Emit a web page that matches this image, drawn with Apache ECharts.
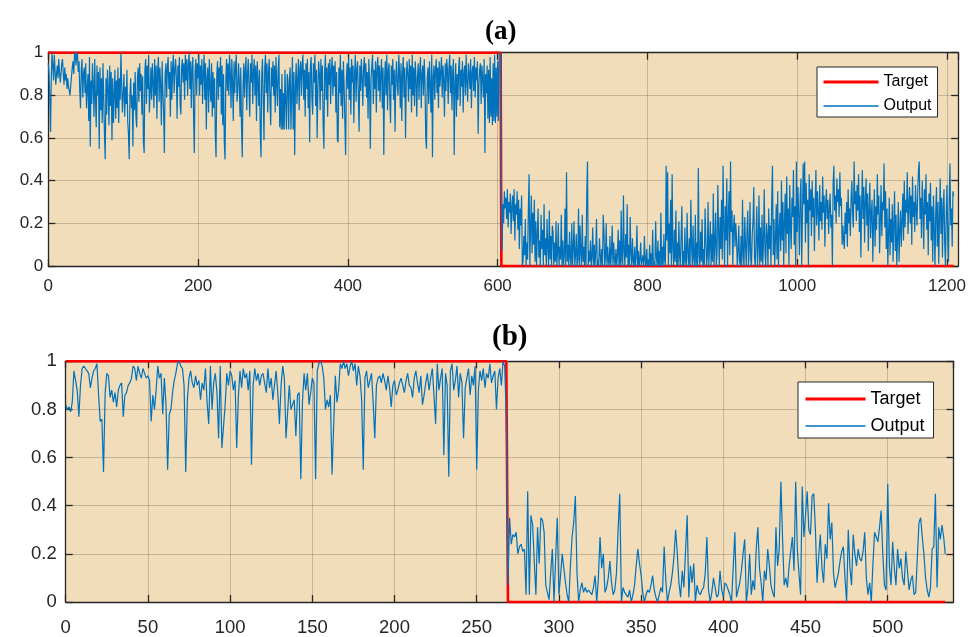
<!DOCTYPE html>
<html>
<head>
<meta charset="utf-8">
<script src="https://cdn.jsdelivr.net/npm/echarts@6/dist/echarts.min.js"></script>
<style>
  html, body { margin: 0; padding: 0; background: #ffffff; }
  #chart { width: 972px; height: 637px; }
</style>
</head>
<body>
<div id="chart"></div>
<script>
// ---- panel (a): classifier output over 1210 samples ----
const panelTitles = ['(a)', '(b)'];
const seriesNames = ['Target', 'Output'];

// target step: corner points of the desired response
const targetAX = [0, 604, 605, 1209];
const targetAY = [1, 1, 0, 0];

// network output, sample index = position in the array
const outputA = [
0.95,0.9,0.78,0.63,0.88,1.0,0.94,0.87,0.99,0.92,0.85,0.9,0.94,0.88,0.97,0.91,0.86,0.9,0.95,0.97,
0.9,0.85,0.93,0.87,0.9,0.83,0.88,0.84,0.82,0.8,0.85,0.89,0.93,0.96,0.9,0.99,1.0,0.94,0.99,1.0,
0.91,0.96,0.82,0.74,0.92,0.97,0.79,0.9,0.93,0.81,0.95,0.74,0.83,0.9,0.68,0.98,0.56,0.87,0.76,0.95,
0.84,0.7,0.97,0.78,0.65,0.94,0.8,0.91,0.55,0.93,0.73,0.88,0.67,0.95,0.79,0.62,0.5,0.88,0.71,0.92,
0.83,0.66,0.94,0.75,0.91,0.59,0.88,0.67,0.8,0.92,0.69,0.87,0.74,0.93,0.67,0.88,0.78,1.0,0.85,0.72,
0.81,0.9,0.7,0.84,0.76,0.92,0.68,0.62,0.5,0.79,0.88,0.74,0.8,0.56,0.86,0.73,0.91,0.7,0.65,0.88,
0.93,0.77,0.95,0.82,0.9,0.71,0.89,0.58,0.53,0.92,0.97,0.76,0.94,0.83,0.99,0.72,0.81,0.93,0.78,0.95,
0.86,0.74,0.97,0.8,0.94,0.69,0.92,0.98,0.77,0.93,0.85,0.66,0.96,0.82,0.72,0.53,0.9,0.95,0.79,0.93,
0.98,0.83,0.91,0.7,0.96,0.78,0.93,0.99,0.81,0.92,0.97,0.88,0.69,0.94,0.84,0.98,0.76,0.71,0.93,0.97,
0.86,0.95,0.78,0.99,0.87,0.97,0.8,0.94,1.0,0.83,0.96,0.74,0.93,0.98,0.7,0.53,0.91,0.97,0.8,0.95,
0.88,0.99,0.8,0.94,0.85,0.97,0.76,0.91,0.99,0.78,0.95,0.64,0.88,0.93,0.72,0.97,0.84,0.77,0.95,0.7,
0.91,0.74,0.88,0.62,0.51,0.9,0.96,0.78,0.93,0.84,0.98,0.71,0.94,0.66,0.9,0.58,0.5,0.86,0.97,0.82,
0.95,0.8,0.99,0.9,0.74,0.97,0.86,0.68,0.96,0.81,0.94,0.99,0.77,0.82,0.95,0.87,0.7,0.93,0.65,0.51,
0.84,0.95,0.79,0.92,0.98,0.73,0.9,0.97,0.83,0.7,0.95,0.86,0.99,0.76,0.91,0.97,0.8,0.94,0.68,0.96,
0.87,0.75,0.92,0.63,0.51,0.9,0.97,0.78,0.59,0.93,0.99,0.81,0.95,0.72,0.91,0.97,0.77,0.66,0.93,0.84,
0.96,0.8,0.94,0.72,0.98,0.86,0.75,0.93,0.99,0.65,0.83,0.64,0.9,0.64,0.81,0.64,0.92,0.77,0.64,0.9,
0.86,0.64,0.88,0.93,0.64,0.8,0.98,0.64,0.91,0.52,0.84,0.95,0.76,0.87,0.97,0.73,0.92,0.96,0.8,0.94,
0.99,0.78,0.92,0.7,0.95,0.83,0.97,0.74,0.91,0.58,0.93,0.98,0.79,0.71,0.95,0.86,0.99,0.75,0.92,0.6,
0.84,0.96,0.9,0.73,0.97,0.82,0.94,0.66,0.55,0.91,0.99,0.78,0.93,0.7,0.95,0.85,0.97,0.76,0.92,0.98,
0.8,0.94,0.84,0.96,0.72,0.91,0.59,0.58,0.93,0.81,0.99,0.75,0.92,0.69,0.96,0.85,0.68,0.52,0.87,0.95,
0.83,0.98,0.78,0.93,0.71,0.97,0.86,0.94,0.67,0.9,0.99,0.77,0.92,0.96,0.8,0.63,0.94,0.82,0.97,0.88,
0.75,0.93,0.98,0.84,0.95,0.79,0.91,0.69,0.97,0.86,0.55,0.88,0.94,0.99,0.76,0.92,0.83,0.96,0.72,0.93,
0.98,0.82,0.94,0.77,0.91,0.97,0.74,0.93,0.52,0.87,0.96,0.8,0.99,0.73,0.92,0.95,0.79,0.67,0.94,0.85,
0.97,0.78,0.92,0.63,0.89,0.96,0.84,0.8,0.99,0.91,0.74,0.95,0.68,0.9,0.98,0.79,0.93,0.6,0.86,0.96,
0.9,0.77,0.97,0.83,0.94,0.72,0.99,0.8,0.93,0.75,0.96,0.88,0.7,0.89,0.95,0.78,0.92,0.98,0.74,0.9,
0.94,0.8,0.97,0.86,0.6,0.55,0.88,0.93,0.76,0.96,0.84,0.72,0.99,0.51,0.89,0.94,0.78,0.92,0.97,0.81,
0.93,0.74,0.96,0.84,0.91,0.98,0.79,0.94,0.87,0.7,0.95,0.82,0.97,0.92,0.76,0.93,0.99,0.81,0.94,0.73,
0.91,0.97,0.52,0.85,0.95,0.7,0.9,0.78,0.93,0.98,0.75,0.92,0.84,0.96,0.72,0.91,0.94,0.8,0.99,0.86,
0.77,0.95,0.9,0.83,0.97,0.74,0.91,0.94,0.82,0.98,0.79,0.93,0.87,0.96,0.62,0.85,0.92,0.95,0.76,0.94,
0.88,0.79,0.97,0.53,0.9,0.81,0.94,0.69,0.92,0.67,0.98,0.7,0.88,0.66,0.95,0.68,0.99,0.67,0.93,0.7,
0.96,0.68,0.99,1.0,0.98,
0.37,0.07,0.29,0.2,0.35,0.27,0.32,0.22,0.36,0.18,0.3,0.25,0.34,0.15,0.28,
0.33,0.21,0.36,0.12,0.29,0.24,0.35,0.17,0.31,0.08,0.27,0.19,0.33,0.0,0.02,0.14,0.05,0.22,0.0,0.11,
0.03,0.26,0.43,0.0,0.18,0.33,0.06,0.25,0.1,0.31,0.02,0.21,0.0,0.15,0.27,0.04,0.12,0.0,0.24,0.08,
0.17,0.0,0.29,0.05,0.13,0.0,0.22,0.09,0.0,0.26,0.03,0.14,0.0,0.19,0.16,0.0,0.11,0.02,0.21,0.0,
0.06,0.2,0.0,0.09,0.03,0.24,0.0,0.12,0.0,0.05,0.27,0.0,0.44,0.02,0.1,0.0,0.16,0.04,0.0,0.2,
0.0,0.08,0.21,0.0,0.05,0.15,0.0,0.03,0.27,0.0,0.19,0.06,0.0,0.24,0.02,0.09,0.0,0.14,0.0,0.33,
0.49,0.0,0.07,0.02,0.12,0.0,0.04,0.18,0.0,0.1,0.0,0.06,0.22,0.0,0.03,0.0,0.13,0.05,0.0,0.08,
0.0,0.24,0.16,0.0,0.04,0.2,0.0,0.09,0.02,0.0,0.14,0.0,0.06,0.19,0.0,0.11,0.03,0.0,0.08,0.0,
0.05,0.17,0.0,0.12,0.0,0.26,0.02,0.0,0.33,0.07,0.0,0.15,0.04,0.29,0.0,0.1,0.0,0.23,0.06,0.0,
0.13,0.02,0.0,0.09,0.0,0.04,0.19,0.0,0.07,0.0,0.03,0.11,0.0,0.0,0.05,0.0,0.14,0.02,0.0,0.08,
0.0,0.03,0.0,0.1,0.0,0.06,0.0,0.17,0.0,0.02,0.0,0.21,0.04,0.0,0.12,0.0,0.07,0.0,0.25,0.0,
0.09,0.0,0.15,0.03,0.0,0.47,0.12,0.44,0.0,0.2,0.06,0.31,0.0,0.43,0.08,0.0,0.17,0.02,0.26,0.0,
0.11,0.0,0.21,0.04,0.0,0.14,0.28,0.0,0.07,0.0,0.18,0.02,0.0,0.25,0.06,0.0,0.13,0.0,0.31,0.09,
0.0,0.19,0.03,0.0,0.24,0.0,0.11,0.0,0.46,0.05,0.0,0.16,0.02,0.22,0.0,0.08,0.0,0.27,0.13,0.0,
0.04,0.3,0.0,0.09,0.21,0.0,0.15,0.02,0.34,0.0,0.11,0.25,0.0,0.06,0.38,0.17,0.0,0.23,0.08,0.31,
0.03,0.47,0.19,0.0,0.28,0.12,0.41,0.0,0.22,0.35,0.05,0.49,0.16,0.26,0.0,0.18,0.24,0.09,0.2,0.13,
0.0,0.07,0.19,0.02,0.0,0.14,0.0,0.31,0.05,0.0,0.23,0.1,0.0,0.17,0.26,0.0,0.08,0.3,0.03,0.0,
0.15,0.21,0.37,0.04,0.0,0.12,0.28,0.0,0.09,0.33,0.0,0.18,0.02,0.24,0.0,0.11,0.36,0.06,0.0,0.2,
0.14,0.0,0.27,0.08,0.19,0.0,0.31,0.47,0.05,0.22,0.0,0.13,0.29,0.03,0.35,0.0,0.17,0.25,0.07,0.4,
0.12,0.3,0.0,0.21,0.34,0.06,0.42,0.15,0.27,0.0,0.38,0.19,0.08,0.32,0.23,0.45,0.1,0.28,0.0,0.49,
0.16,0.37,0.24,0.05,0.33,0.41,0.0,0.22,0.48,0.29,0.49,0.11,0.39,0.2,0.31,0.0,0.43,0.26,0.36,0.14,
0.4,0.23,0.32,0.07,0.28,0.45,0.19,0.35,0.26,0.12,0.38,0.21,0.3,0.17,0.42,0.25,0.33,0.09,0.29,0.36,
0.22,0.31,0.15,0.27,0.34,0.18,0.24,0.0,0.39,0.47,0.26,0.33,0.2,0.41,0.3,0.36,0.23,0.44,0.28,0.32,
0.1,0.19,0.12,0.08,0.25,0.15,0.3,0.09,0.36,0.2,0.27,0.14,0.32,0.4,0.24,0.18,0.49,0.29,0.35,0.21,
0.38,0.26,0.43,0.16,0.33,0.04,0.28,0.45,0.22,0.37,0.11,0.3,0.41,0.19,0.34,0.07,0.27,0.39,0.13,0.25,
0.31,0.02,0.2,0.36,0.09,0.28,0.17,0.43,0.24,0.33,0.06,0.21,0.38,0.14,0.3,0.26,0.48,0.18,0.35,0.08,
0.27,0.0,0.15,0.32,0.05,0.22,0.11,0.29,0.02,0.19,0.35,0.07,0.24,0.0,0.13,0.3,0.02,0.17,0.26,0.09,
0.21,0.34,0.12,0.4,0.18,0.31,0.25,0.44,0.15,0.28,0.37,0.2,0.33,0.1,0.42,0.23,0.3,0.16,0.38,0.26,
0.19,0.35,0.45,0.49,0.22,0.32,0.13,0.4,0.27,0.08,0.36,0.24,0.43,0.17,0.3,0.05,0.34,0.21,0.39,0.12,
0.28,0.02,0.33,0.18,0.0,0.25,0.37,0.09,0.3,0.01,0.22,0.41,0.15,0.32,0.04,0.27,0.36,0.11,0.0,0.24,
0.38,0.14,0.02,0.31,0.48,0.19,0.27,0.09,0.35,0.33
];

// ---- panel (b): classifier output over 536 samples ----
const targetBX = [0, 268, 269, 535];
const targetBY = [1, 1, 0, 0];

const outputB = [
0.82,0.8,0.81,0.79,0.83,0.96,0.96,0.88,0.77,0.9,0.97,0.98,0.97,0.96,0.95,0.89,0.93,0.96,0.97,0.99,
0.86,0.75,0.76,0.54,0.87,0.95,0.94,0.85,0.88,0.83,0.87,0.81,0.88,0.9,0.91,0.77,0.86,0.87,0.9,0.91,
0.93,0.98,0.97,0.92,0.98,0.95,0.93,0.97,0.95,0.93,
0.94,0.92,0.75,0.86,0.8,0.88,0.98,0.93,0.95,0.78,0.93,0.82,0.55,0.78,0.8,0.87,0.92,0.95,0.99,1.0,
0.98,0.97,0.9,0.54,0.84,0.93,0.96,0.91,0.89,0.94,0.9,0.92,0.84,0.91,0.88,0.97,0.83,0.74,0.98,0.8,
0.91,0.95,0.87,0.68,0.98,0.64,0.64,0.82,0.95,0.9,0.96,0.94,0.88,0.92,0.64,0.85,0.96,0.89,0.97,0.93,
0.95,0.88,0.96,0.57,0.9,0.97,0.92,0.95,0.9,0.94,0.95,0.91,0.87,0.97,0.89,0.93,0.84,0.9,0.96,0.87,
0.74,0.9,0.98,0.93,0.68,0.68,0.9,0.8,0.82,0.84,0.69,0.86,0.87,0.51,0.83,0.95,0.88,0.95,0.82,0.87,
0.93,0.91,0.51,0.96,0.99,1.0,0.98,0.93,0.8,0.84,0.81,0.86,0.53,0.53,0.94,0.83,0.88,0.99,0.97,1.0,
0.97,0.99,0.94,0.98,1.0,0.96,0.99,0.9,0.98,0.94,0.84,0.55,0.93,0.96,0.89,0.92,0.95,0.83,0.68,0.9,
0.93,0.94,0.91,0.95,0.92,0.88,0.94,0.89,0.81,0.9,0.92,0.86,0.88,0.91,0.93,0.9,0.87,0.92,0.95,0.9,
0.89,0.85,0.93,0.96,0.91,0.87,0.94,0.82,0.86,0.91,0.95,0.88,0.93,0.97,0.86,0.74,0.99,0.88,0.93,0.97,
0.61,0.95,0.9,0.52,0.96,0.99,0.88,0.92,0.98,0.85,0.95,0.91,0.68,0.89,0.93,0.97,0.86,0.94,0.9,0.98,
0.55,0.88,0.96,0.92,0.97,0.89,0.95,0.93,0.99,0.91,0.94,0.96,0.8,0.93,0.97,0.9,1.0,0.98,0.77,
0.07,0.35,0.24,0.28,0.27,0.29,0.2,0.23,0.24,0.21,0.22,0.03,0.46,0.03,0.36,0.32,0.17,0.03,0.31,0.16,
0.35,0.34,0.29,0.07,0.04,0.01,0.12,0.22,0.0,0.18,0.35,0.03,0.11,0.2,0.14,0.08,0.03,0.0,0.15,0.27,
0.33,0.44,0.12,0.0,0.05,0.08,0.04,0.06,0.04,0.05,0.04,0.03,0.06,0.11,0.0,0.1,0.27,0.14,0.2,0.04,
0.06,0.1,0.17,0.08,0.03,0.05,0.12,0.3,0.45,0.0,0.06,0.04,0.04,0.02,0.05,0.0,0.03,0.07,0.15,0.22,
0.16,0.11,0.04,0.0,0.03,0.05,0.04,0.07,0.11,0.05,0.02,0.0,0.03,0.06,0.04,0.23,0.09,0.0,0.04,0.07,
0.12,0.19,0.3,0.2,0.08,0.02,0.13,0.06,0.21,0.36,0.02,0.15,0.08,0.16,0.0,0.07,0.04,0.03,0.05,0.06,
0.12,0.27,0.05,0.0,0.04,0.1,0.06,0.02,0.03,0.13,0.05,0.02,0.08,0.07,0.05,0.03,0.0,0.14,0.29,0.02,
0.02,0.08,0.13,0.2,0.26,0.0,0.06,0.2,0.03,0.09,0.05,0.22,0.31,0.14,0.08,0.0,0.13,0.09,0.22,0.15,
0.07,0.04,0.02,0.31,0.15,0.22,0.5,0.27,0.07,0.1,0.06,0.15,0.21,0.27,0.13,0.5,0.22,0.12,0.03,0.48,
0.27,0.36,0.46,0.3,0.28,0.44,0.45,0.3,0.08,0.19,0.28,0.14,0.08,0.24,0.18,0.41,0.26,0.33,0.12,0.06,
0.09,0.12,0.17,0.21,0.23,0.1,0.0,0.3,0.14,0.07,0.28,0.2,0.15,0.22,0.18,0.17,0.21,0.29,0.1,0.03,
0.08,0.0,0.16,0.29,0.27,0.25,0.31,0.38,0.2,0.07,0.05,0.49,0.15,0.07,0.25,0.14,0.07,0.22,0.14,0.18,
0.1,0.07,0.21,0.13,0.05,0.09,0.11,0.03,0.04,0.04,0.33,0.35,0.27,0.2,0.1,0.05,0.02,0.06,0.22,0.23,
0.45,0.06,0.31,0.26,0.32,0.27,0.2
];

// axis settings per panel
const xMaxA = 1215, xStepA = 200;
const xMaxB = 540, xStepB = 50;
const yTicks = [0, 0.2, 0.4, 0.6, 0.8, 1];

const INK = '#262626';
const PANEL_BG = '#f1ddb9';
const GRID_LINE = 'rgba(38,38,38,0.22)';
const RED = '#ff0000';
const BLUE = '#0072bd';

function pairs(xs, ys) { return xs.map((x, i) => [x, ys[i]]); }
function indexed(ys) { return ys.map((y, i) => [i, y]); }

const grids = [
  { left: 48.3, top: 52.7, width: 909.9, height: 213.3 },
  { left: 65.7, top: 361.3, width: 887.8, height: 242.7 }
];
const fonts = [17, 18.5];
const labelMargins = [{ x: 12, y: 5 }, { x: 16, y: 9 }];

function bottomX(gi, max, step) {
  return {
    type: 'value', gridIndex: gi, min: 0, max: max, interval: step, position: 'bottom',
    axisLine: { show: true, onZero: false, lineStyle: { color: INK, width: 1.3 } },
    axisTick: { show: true, inside: true, length: 7, lineStyle: { color: INK, width: 1.3 } },
    axisLabel: {
      color: INK, fontFamily: 'Liberation Sans, Arial, sans-serif', fontSize: fonts[gi],
      margin: labelMargins[gi].x, showMaxLabel: false,
      formatter: v => (v % step === 0 ? String(v) : '')
    },
    splitLine: { show: true, lineStyle: { color: GRID_LINE, width: 1 } }
  };
}
function topX(gi, max, step) {
  return {
    type: 'value', gridIndex: gi, min: 0, max: max, interval: step, position: 'top',
    axisLine: { show: true, onZero: false, lineStyle: { color: INK, width: 1.3 } },
    axisTick: { show: true, inside: true, length: 7, lineStyle: { color: INK, width: 1.3 } },
    axisLabel: { show: false }, splitLine: { show: false }
  };
}
function leftY(gi) {
  return {
    type: 'value', gridIndex: gi, min: 0, max: 1, interval: 0.2, position: 'left',
    axisLine: { show: true, onZero: false, lineStyle: { color: INK, width: 1.3 } },
    axisTick: { show: true, inside: true, length: 7, lineStyle: { color: INK, width: 1.3 } },
    axisLabel: {
      color: INK, fontFamily: 'Liberation Sans, Arial, sans-serif', fontSize: fonts[gi],
      margin: labelMargins[gi].y,
      formatter: v => (yTicks.indexOf(Math.round(v * 10) / 10) >= 0 ? String(Math.round(v * 10) / 10) : '')
    },
    splitLine: { show: true, lineStyle: { color: GRID_LINE, width: 1 } }
  };
}
function rightY(gi) {
  return {
    type: 'value', gridIndex: gi, min: 0, max: 1, interval: 0.2, position: 'right',
    axisLine: { show: true, onZero: false, lineStyle: { color: INK, width: 1.3 } },
    axisTick: { show: true, inside: true, length: 7, lineStyle: { color: INK, width: 1.3 } },
    axisLabel: { show: false }, splitLine: { show: false }
  };
}

function legendFor(box) {
  return {
    show: true, orient: 'vertical', left: box.left, top: box.top,
    data: [
      { name: seriesNames[0], lineStyle: { width: 3 } },
      { name: seriesNames[1], lineStyle: { width: 1.3 } }
    ],
    selectedMode: false,
    itemStyle: { opacity: 0 },
    backgroundColor: '#ffffff', borderColor: INK, borderWidth: 1, borderRadius: 0,
    padding: box.padding, itemGap: box.gap, itemWidth: box.iconW, itemHeight: 14, itemTextGap: 4,
    textStyle: { color: '#000000', fontFamily: 'Liberation Sans, Arial, sans-serif', fontSize: box.font }
  };
}

const chart = echarts.init(document.getElementById('chart'), null, { renderer: 'canvas' });

chart.setOption({
  animation: false,
  backgroundColor: '#ffffff',
  grid: grids.map(g => Object.assign({ show: true, backgroundColor: PANEL_BG, borderWidth: 0 }, g)),
  xAxis: [bottomX(0, xMaxA, xStepA), topX(0, xMaxA, xStepA), bottomX(1, xMaxB, xStepB), topX(1, xMaxB, xStepB)],
  yAxis: [leftY(0), rightY(0), leftY(1), rightY(1)],
  legend: [
    legendFor({ left: 817, top: 67, padding: [7, 6, 3, 5], gap: 8, iconW: 55, font: 16 }),
    legendFor({ left: 798, top: 382, padding: [8, 9, 3, 6], gap: 9, iconW: 60, font: 18 })
  ],
  graphic: [
    { type: 'text', left: 485, top: 19, silent: true,
      style: { text: panelTitles[0], font: 'bold 27px "Liberation Serif", "Times New Roman", serif', fill: '#000000' } },
    { type: 'text', left: 492, top: 323, silent: true,
      style: { text: panelTitles[1], font: 'bold 29px "Liberation Serif", "Times New Roman", serif', fill: '#000000' } }
  ],
  series: [
    { name: seriesNames[0], type: 'line', xAxisIndex: 0, yAxisIndex: 0, data: pairs(targetAX, targetAY),
      symbol: 'none', clip: false, lineStyle: { color: RED, width: 2.6 }, itemStyle: { color: RED }, z: 3 },
    { name: seriesNames[1], type: 'line', xAxisIndex: 0, yAxisIndex: 0, data: indexed(outputA),
      symbol: 'none', clip: false, sampling: null, lineStyle: { color: BLUE, width: 1.2 }, itemStyle: { color: BLUE }, z: 4 },
    { name: seriesNames[0], type: 'line', xAxisIndex: 2, yAxisIndex: 2, data: pairs(targetBX, targetBY),
      symbol: 'none', clip: false, lineStyle: { color: RED, width: 2.6 }, itemStyle: { color: RED }, z: 3 },
    { name: seriesNames[1], type: 'line', xAxisIndex: 2, yAxisIndex: 2, data: indexed(outputB),
      symbol: 'none', clip: false, sampling: null, lineStyle: { color: BLUE, width: 1.2 }, itemStyle: { color: BLUE }, z: 4 }
  ]
});
</script>
</body>
</html>
